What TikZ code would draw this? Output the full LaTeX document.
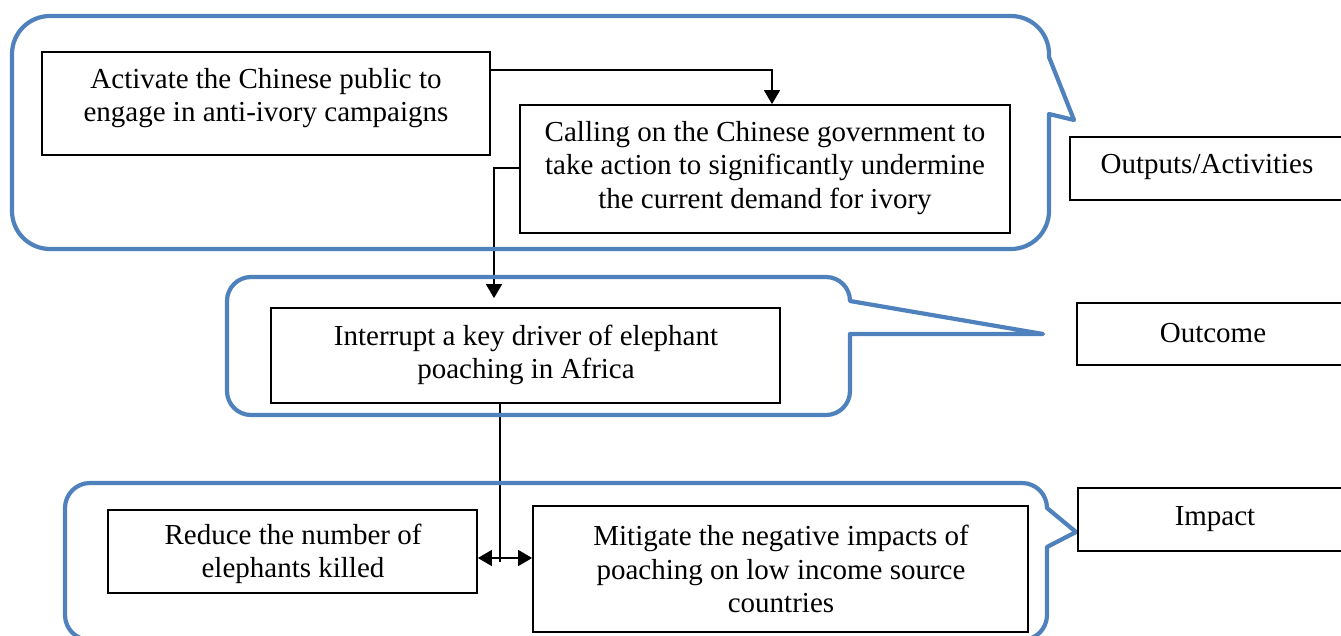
\documentclass[tikz,border=0pt]{standalone}
\usepackage{fontspec}
\setmainfont{Liberation Serif}
\usetikzlibrary{arrows.meta}
\pgfdeclarelayer{background}
\pgfdeclarelayer{mid}
\pgfsetlayers{background,mid,main}
\definecolor{calloutblue}{RGB}{79,129,189}
\tikzset{
  callout/.style={draw=calloutblue, line width=4.2pt, line join=round},
  box/.style={draw=black, line width=1.8pt, fill=white, inner sep=0pt, rectangle},
  txt/.style={align=center, inner sep=0pt, font=\fontsize{29}{33.5}\selectfont},
  conn/.style={draw=black, line width=1.5pt},
  arr/.style={conn, -{Triangle[length=14pt,width=16pt]}},
  arrtwo/.style={conn, {Triangle[length=14pt,width=16pt]}-{Triangle[length=14pt,width=16pt]}}
}
\begin{document}
\begin{tikzpicture}[x=1pt,y=1pt]
\useasboundingbox (0,0) rectangle (1341,-635);
\clip (0,0) rectangle (1341,-635);

% boxes
\path (266,-103.5) node[box, minimum width=448pt, minimum height=103pt] (A) {};
\path (765,-169) node[box, minimum width=490pt, minimum height=128pt] (B) {};
\path (525.5,-355.5) node[box, minimum width=509pt, minimum height=95pt] (C) {};
\path (292.5,-551.5) node[box, minimum width=369pt, minimum height=83pt] (D) {};
\path (780.5,-569) node[box, minimum width=495pt, minimum height=126pt] (E) {};

% label boxes on the right
\path (1210,-168.5) node[box, minimum width=280pt, minimum height=63pt] (O1) {};
\path (1213.5,-334) node[box, minimum width=273pt, minimum height=62pt] (O2) {};
\path (1214,-519.5) node[box, minimum width=272pt, minimum height=63pt] (O3) {};

% texts
\node[txt] (At) at (266,-98) {Activate the Chinese public to\\engage in anti-ivory campaigns};
\node[txt] (Bt) at (765,-168) {Calling on the Chinese government to\\take action to significantly undermine\\the current demand for ivory};
\node[txt] (Ct) at (526,-355) {Interrupt a key driver of elephant\\poaching in Africa};
\node[txt] (Dt) at (293,-554) {Reduce the number of\\elephants killed};
\node[txt] (Et) at (781,-569) {Mitigate the negative impacts of\\poaching on low income source\\countries};
\node[txt] (O1t) at (1207,-167) {Outputs/Activities};
\node[txt] (O2t) at (1213,-333) {Outcome};
\node[txt] (O3t) at (1215,-519) {Impact};

% connectors (under the callout outlines)
\begin{pgfonlayer}{background}
\fill[white] (0,0) rectangle (1341,-635);
\draw[arr] (A.east |- 0,-70) -| (B.north -| 772,0);
\draw[arr, shorten >=9pt] (B.west |- 0,-168) -| (C.north -| 494,0);
\draw[conn] (C.south -| 500,0) -- (500,-562);
\draw[arrtwo] (D.east |- 0,-558) -- (E.west |- 0,-558);
\end{pgfonlayer}

% callouts
\begin{pgfonlayer}{mid}
\draw[callout] (50,-16) -- (1011,-16) arc[start angle=90,end angle=0,radius=38]
  -- (1049,-57) -- (1074,-120) -- (1049,-114) -- (1049,-211)
  arc[start angle=0,end angle=-90,radius=38] -- (50,-249)
  arc[start angle=-90,end angle=-180,radius=38] -- (12,-54)
  arc[start angle=180,end angle=90,radius=38] -- cycle;
\draw[callout] (251,-277) -- (826,-277) arc[start angle=90,end angle=0,radius=24]
  -- (1043,-334) -- (850,-334) -- (850,-391)
  arc[start angle=0,end angle=-90,radius=24] -- (251,-415)
  arc[start angle=-90,end angle=-180,radius=24] -- (227,-301)
  arc[start angle=180,end angle=90,radius=24] -- cycle;
\draw[callout] (90,-483) -- (1022,-483) arc[start angle=90,end angle=0,radius=25]
  -- (1076,-532) -- (1047,-547) -- (1047,-615)
  arc[start angle=0,end angle=-90,radius=25] -- (90,-640)
  arc[start angle=-90,end angle=-180,radius=25] -- (65,-508)
  arc[start angle=180,end angle=90,radius=25] -- cycle;
\end{pgfonlayer}
\end{tikzpicture}
\end{document}
